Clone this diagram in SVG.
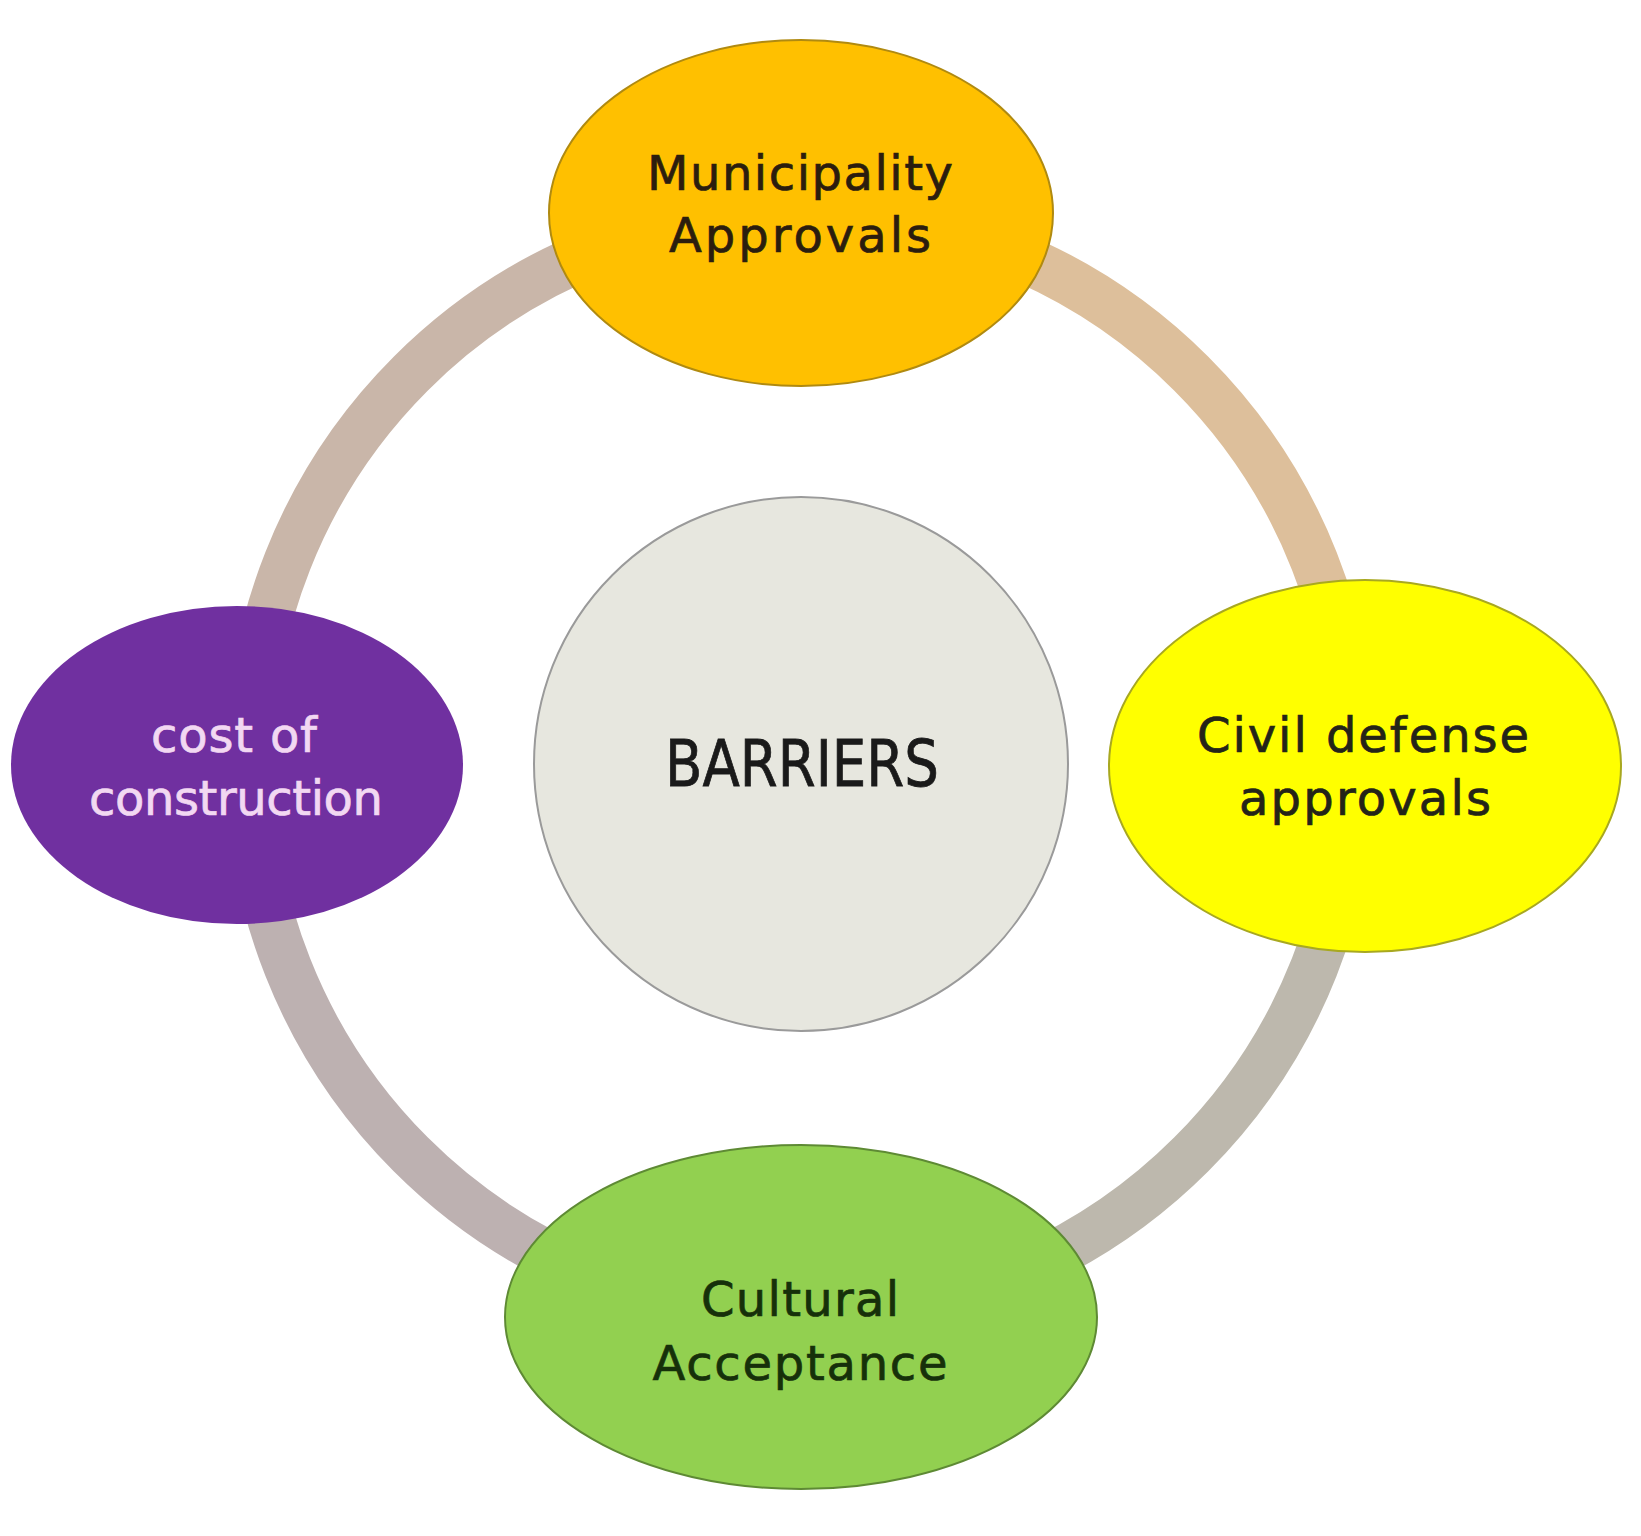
<svg xmlns="http://www.w3.org/2000/svg" width="1641" height="1536" viewBox="0 0 1641 1536">
<style>
.ring{fill:none;stroke-width:48;stroke-linecap:butt}
.lbl{font-family:"DejaVu Sans","Liberation Sans",sans-serif;font-size:48px;text-anchor:middle;stroke-width:0.7}
.dark{fill:#242418;stroke:#242418}
</style>
<rect width="1641" height="1536" fill="#ffffff"/>
<g id="connectors">
<path class="ring" stroke="#C9B6A9" d="M 249 764 A 552 552 0 0 1 801 212"/>
<path class="ring" stroke="#DDBF9B" d="M 801 212 A 552 552 0 0 1 1353 764"/>
<path class="ring" stroke="#BDB8AD" d="M 1353 764 A 552 552 0 0 1 801 1316"/>
<path class="ring" stroke="#BDB1B1" d="M 801 1316 A 552 552 0 0 1 249 764"/>
</g>
<g id="node-barriers">
<circle cx="801" cy="764" r="267" fill="#E7E7DF" stroke="#9a9a9a" stroke-width="2"/>
<text x="802" y="786" class="lbl" style="font-size:64px;stroke:#1a1a1a;stroke-width:0.8" fill="#1a1a1a" textLength="274" lengthAdjust="spacingAndGlyphs">BARRIERS</text>
</g>
<g id="node-municipality">
<ellipse cx="801" cy="213" rx="252" ry="173" fill="#FFC000" stroke="#B08A10" stroke-width="2"/>
<text x="800" y="190" class="lbl" fill="#2b1d0e" stroke="#2b1d0e" textLength="306">Municipality</text>
<text x="800" y="252" class="lbl" fill="#2b1d0e" stroke="#2b1d0e" textLength="262">Approvals</text>
</g>
<g id="node-civil">
<ellipse cx="1365" cy="766" rx="256" ry="186" fill="#FFFF00" stroke="#A8A820" stroke-width="2"/>
<text x="1363" y="752" class="lbl dark" textLength="332">Civil defense</text>
<text x="1365" y="815" class="lbl dark" textLength="252">approvals</text>
</g>
<g id="node-cost">
<ellipse cx="237" cy="765" rx="226" ry="159" fill="#7030A0"/>
<text x="234" y="752" class="lbl" fill="#F2D8F2" stroke="#F2D8F2" stroke-width="0.4" textLength="166">cost of</text>
<text x="236" y="815" class="lbl" fill="#F2D8F2" stroke="#F2D8F2" stroke-width="0.4" textLength="294">construction</text>
</g>
<g id="node-cultural">
<ellipse cx="801" cy="1317" rx="296" ry="172" fill="#92D050" stroke="#5E8A34" stroke-width="2"/>
<text x="800" y="1316" class="lbl" fill="#16300a" stroke="#16300a" textLength="198">Cultural</text>
<text x="800" y="1380" class="lbl" fill="#16300a" stroke="#16300a" textLength="295">Acceptance</text>
</g>
</svg>
